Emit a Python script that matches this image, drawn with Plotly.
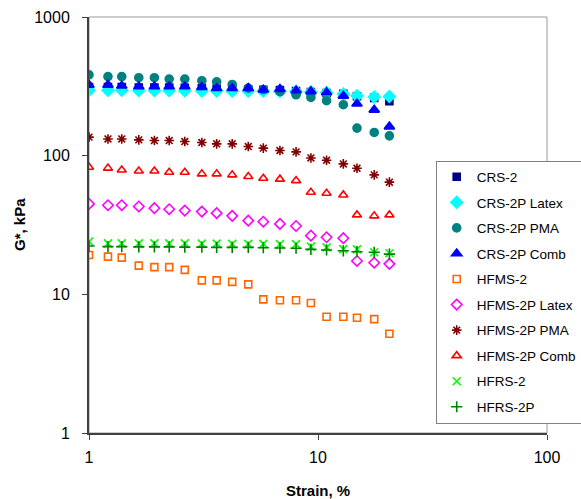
import plotly.graph_objects as go

# Strain sweep points (%), shared by all binders
strain = [1.0, 1.21, 1.39, 1.65, 1.93, 2.24, 2.62, 3.11, 3.61, 4.22,
          4.96, 5.77, 6.82, 8.02, 9.31, 10.9, 12.9, 14.8, 17.6, 20.5]

# Complex modulus G* (kPa)
crs_2 = [312, 312, 312, 310, 310, 310, 308, 306, 304, 302,
         300, 298, 297, 293, 288, 283, 279, 268, 261, 247]
crs_2p_latex = [296, 296, 296, 295, 295, 295, 294, 293, 293, 292,
                292, 292, 291, 290, 288, 285, 278, 270, 265, 267]
crs_2p_pma = [383, 372, 372, 365, 365, 357, 357, 347, 341, 326,
              307, 299, 290, 275, 263, 249, 233, 158, 147, 139]
crs_2p_comb = [324, 324, 319, 315, 315, 315, 315, 312, 307, 307,
               307, 299, 302, 295, 291, 286, 270, 237, 214, 162]
hfms_2 = [19.2, 18.7, 18.4, 16.1, 15.7, 15.7, 15.0, 12.6, 12.6, 12.3,
          11.8, 9.2, 9.06, 9.06, 8.65, 6.9, 6.9, 6.78, 6.63, 5.2]
hfms_2p_latex = [44.9, 43.9, 43.9, 43.0, 41.8, 41.1, 40.2, 39.5, 38.5, 36.8,
                 34.0, 33.4, 32.2, 31.1, 26.5, 25.8, 25.4, 17.4, 16.9, 16.6]
hfms_2p_pma = [136, 132, 132, 130, 128.5, 128.5, 126.4, 124.4, 121.7, 121.7,
               116.3, 113.3, 108.9, 106.5, 96.3, 92.7, 87.2, 81.2, 72.7, 64.4]
hfms_2p_comb = [82.6, 81.3, 78.9, 77.6, 77.6, 76.0, 76.0, 73.9, 73.9, 72.7,
                70.7, 68.8, 67.7, 66.1, 54.5, 53.6, 52.1, 37.4, 36.8, 37.4]
hfrs_2 = [24.0, 23.3, 23.3, 23.3, 23.3, 23.3, 23.3, 23.2, 23.2, 23.1,
          23.1, 23.1, 23.0, 23.0, 22.1, 21.8, 21.2, 21.1, 20.1, 19.8]
hfrs_2p = [22.3, 22.1, 22.1, 22.0, 22.0, 22.0, 21.9, 21.9, 21.8, 21.8,
           21.8, 21.7, 21.6, 21.5, 21.1, 20.9, 20.6, 20.3, 20.1, 19.5]

series = [
    ("CRS-2", crs_2, "square", "#000080", 7),
    ("CRS-2P Latex", crs_2p_latex, "diamond", "#00FFFF", 9),
    ("CRS-2P PMA", crs_2p_pma, "circle", "#008080", 8),
    ("CRS-2P Comb", crs_2p_comb, "triangle-up", "#0000FF", 9),
    ("HFMS-2", hfms_2, "square-open", "#FF6600", 7),
    ("HFMS-2P Latex", hfms_2p_latex, "diamond-open", "#FF00FF", 8),
    ("HFMS-2P PMA", hfms_2p_pma, "asterisk-open", "#800000", 8),
    ("HFMS-2P Comb", hfms_2p_comb, "triangle-up-open", "#FF0000", 8),
    ("HFRS-2", hfrs_2, "x-thin-open", "#00FF00", 8),
    ("HFRS-2P", hfrs_2p, "cross-thin-open", "#008000", 8),
]

fig = go.Figure()
for i, (name, vals, sym, col, sz) in enumerate(series):
    fig.add_trace(go.Scatter(
        x=strain, y=vals, mode="markers", name=name, legendgroup=f"g{i}",
        marker=dict(symbol=sym, color=col, size=sz,
                    line=dict(color=col, width=1.6)),
    ))

FONT = "Liberation Sans, Arial, sans-serif"

fig.update_layout(
    width=581, height=499,
    margin=dict(l=89, r=34, t=17, b=66, autoexpand=False),
    paper_bgcolor="white", plot_bgcolor="white",
    font=dict(family=FONT, color="black", size=15),
    showlegend=True,
    legend=dict(
        x=0.757, y=0.655, xanchor="left", yanchor="top",
        bgcolor="white", bordercolor="#808080", borderwidth=1,
        font=dict(family=FONT, size=13.5, color="black"),
        tracegroupgap=5, itemwidth=30,
    ),
    xaxis=dict(
        type="log", range=[0, 2], showgrid=False, zeroline=False,
        showline=True, linecolor="#404040", linewidth=2,
        ticks="outside", ticklen=5, tickcolor="#404040",
        tickvals=[1, 10, 100], ticktext=["1", "10", "100"],
        ticklabelstandoff=4, tickfont=dict(size=16),
    ),
    yaxis=dict(
        type="log", range=[0, 3], showgrid=False, zeroline=False,
        showline=True, linecolor="#404040", linewidth=2,
        ticks="outside", ticklen=5, tickcolor="#404040",
        tickvals=[1, 10, 100, 1000], ticktext=["1", "10", "100", "1000"],
        ticklabelstandoff=9, tickfont=dict(size=16),
    ),
    shapes=[dict(type="rect", xref="paper", yref="paper", x0=0, x1=1, y0=0, y1=1,
                 line=dict(color="#999999", width=1), layer="below")],
    annotations=[
        dict(text="<b>Strain, %</b>", xref="paper", yref="paper", x=0.5, y=0,
             yshift=-57, showarrow=False, font=dict(size=15), yanchor="middle"),
        dict(text="<b>G*, kPa</b>", xref="paper", yref="paper", x=0, y=0.5,
             xshift=-70, showarrow=False, textangle=-90, font=dict(size=15),
             xanchor="center"),
    ],
)

fig.write_html("out.html")
